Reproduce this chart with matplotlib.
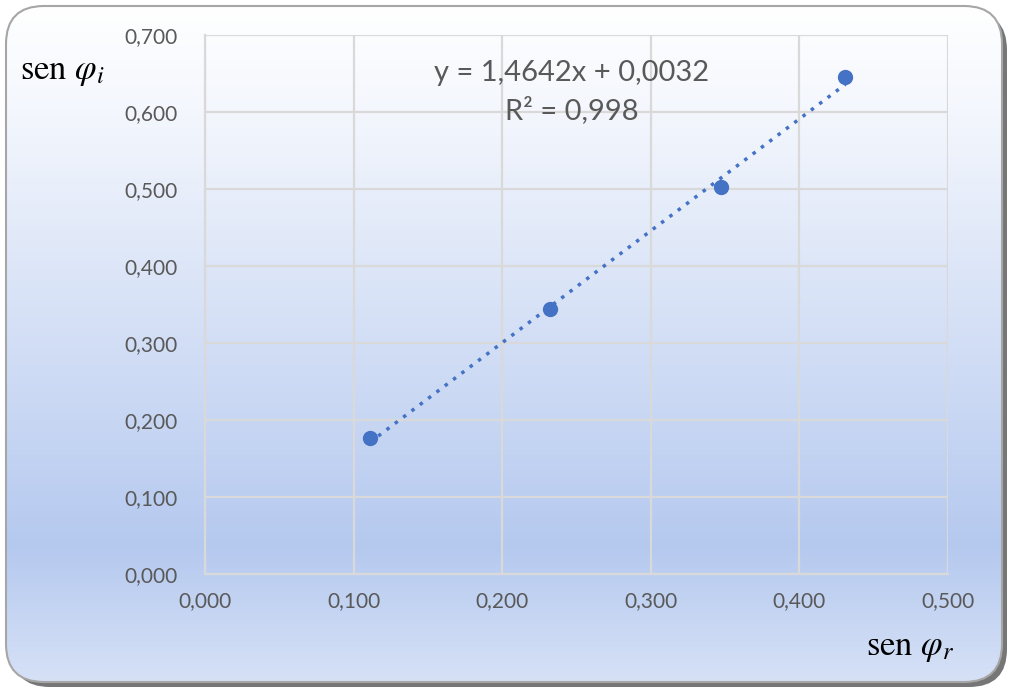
import numpy as np
import matplotlib.pyplot as plt
from matplotlib.patches import FancyBboxPatch
from matplotlib.colors import LinearSegmentedColormap

sen_r = [0.111, 0.232, 0.347, 0.431]
sen_i = [0.176, 0.344, 0.502, 0.646]
x_ticks = [0.0, 0.1, 0.2, 0.3, 0.4, 0.5]
y_ticks = [0.0, 0.1, 0.2, 0.3, 0.4, 0.5, 0.6, 0.7]
equation = "y = 1,4642x + 0,0032\nR² = 0,998"

plt.rcParams['mathtext.fontset'] = 'stix'
plt.rcParams['font.family'] = ['Lato', 'DejaVu Sans']

W, H = 1014, 694
fig = plt.figure(figsize=(W / 100, H / 100), dpi=100)

# background panel with rounded corners and gradient
bg = fig.add_axes([0, 0, 1, 1])
bg.set_xlim(0, W)
bg.set_ylim(H, 0)
bg.axis('off')
shadow = FancyBboxPatch((12, 12), W - 19, H - 19,
                        boxstyle="round,pad=0,rounding_size=38",
                        fc='#5e5e5e', ec='none', alpha=0.85, zorder=1)
bg.add_patch(shadow)
panel = FancyBboxPatch((6, 6), W - 18, H - 18,
                       boxstyle="round,pad=0,rounding_size=38",
                       fc='none', ec='#a6a6a6', lw=1.5, zorder=3)
bg.add_patch(panel)
cmap = LinearSegmentedColormap.from_list(
    'bg', [(0.0, '#ffffff'), (0.15, '#f4f7fd'), (0.8, '#b5c9ef'), (1.0, '#d6e1f6')])
grad = np.linspace(0, 1, 256).reshape(-1, 1)
img = bg.imshow(grad, cmap=cmap, extent=(6, W - 12, H - 12, 6),
                aspect='auto', zorder=2)
img.set_clip_path(FancyBboxPatch((6, 6), W - 18, H - 18,
                                 boxstyle="round,pad=0,rounding_size=38",
                                 transform=bg.transData))

ax = fig.add_axes([205 / W, (H - 574) / H, 743 / W, 539 / H])
ax.set_facecolor('none')
ax.set_xlim(0, 0.5)
ax.set_ylim(0, 0.7)
ax.set_xticks(x_ticks)
ax.set_yticks(y_ticks)
ax.set_xticklabels([f"{v:.3f}".replace('.', ',') for v in x_ticks])
ax.set_yticklabels([f"{v:.3f}".replace('.', ',') for v in y_ticks])
ax.tick_params(length=0, labelsize=15, labelcolor='#595959')
ax.tick_params(axis='y', pad=20)
ax.tick_params(axis='x', pad=12)
ax.grid(True, color='#d9d9d9', lw=1.6)
ax.set_axisbelow(True)
for s in ['top', 'right']:
    ax.spines[s].set_visible(False)
for s in ['left', 'bottom']:
    ax.spines[s].set_color('#d9d9d9')
    ax.spines[s].set_linewidth(1.6)

coef = np.polyfit(sen_r, sen_i, 1)
xs = np.array([min(sen_r), max(sen_r)])
ax.plot(xs, np.polyval(coef, xs), ls=(0, (1, 2)), color='#4472c4', lw=2.5, zorder=3)
ax.plot(sen_r, sen_i, 'o', color='#4472c4', ms=10, zorder=4)

ax.text(0.247, 0.626, equation, ha='center', va='center', fontsize=21,
        color='#595959', linespacing=1.4)

fig.text(20 / W, 1 - 72 / H, r'$\mathrm{sen}\ \varphi_i$', fontsize=25,
         ha='left', va='center', color='black')
fig.text(910 / W, 1 - 648 / H, r'$\mathrm{sen}\ \varphi_r$', fontsize=25,
         ha='center', va='center', color='black')

fig.savefig('out.png', dpi=100)
